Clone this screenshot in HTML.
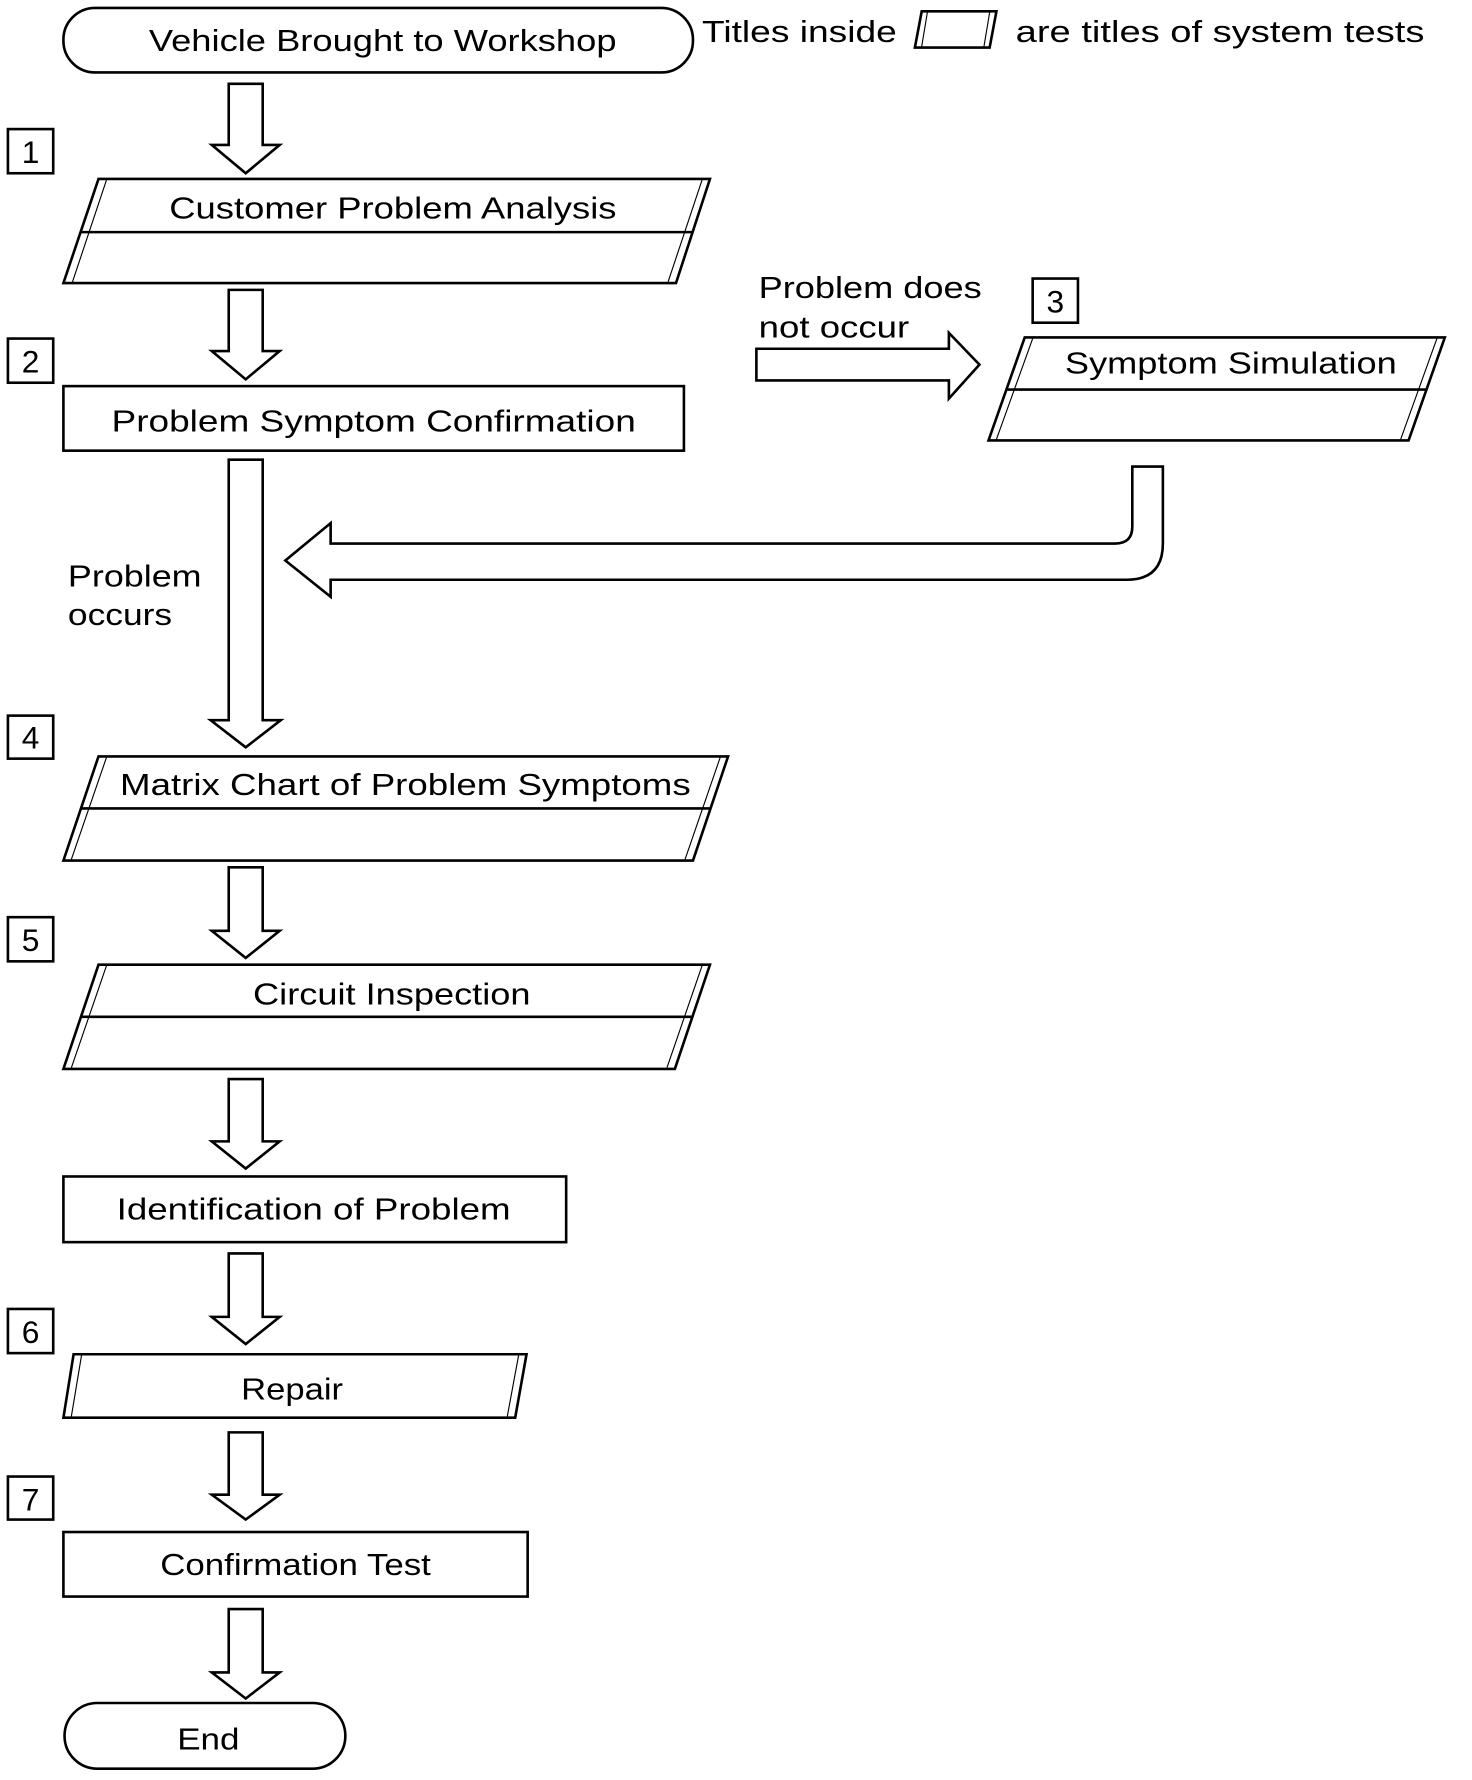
<!DOCTYPE html>
<html><head><meta charset="utf-8"><style>html,body{margin:0;padding:0;background:#fff}svg{display:block}</style></head>
<body>
<svg width="1472" height="1780" viewBox="0 0 1300 1572" preserveAspectRatio="none" xmlns="http://www.w3.org/2000/svg" font-family="Liberation Sans, sans-serif" font-size="27" fill="none" stroke="#000" stroke-width="2.3">
<rect x="56" y="7" width="556" height="57" rx="28" fill="#fff"/>
<text x="338" y="45" text-anchor="middle" fill="#000" stroke="none" textLength="413" lengthAdjust="spacingAndGlyphs">Vehicle Brought to Workshop</text>
<text x="620" y="37" fill="#000" stroke="none" textLength="172" lengthAdjust="spacingAndGlyphs">Titles inside</text>
<path d="M814 10 L880 10 L874 42 L808 42 Z"/><path d="M819 11 L814 41 M874 11 L869 41" stroke-width="1"/>
<text x="897" y="37" fill="#000" stroke="none" textLength="361" lengthAdjust="spacingAndGlyphs">are titles of system tests</text>

<g fill="#fff">
<path d="M202 74 H232 V128 H247 L217 153 L187 128 H202 Z"/>
<path d="M202 256 H232 V310 H247 L217 335 L187 310 H202 Z"/>
<path d="M202 406 H232 V636 H248 L217 660 L186 636 H202 Z"/>
<path d="M202 766 H232 V822 H247 L217 846 L187 822 H202 Z"/>
<path d="M202 953 H232 V1008 H247 L217 1032 L187 1008 H202 Z"/>
<path d="M202 1107 H232 V1163 H247 L217 1187 L187 1163 H202 Z"/>
<path d="M202 1265 H232 V1320 H247 L217 1342 L187 1320 H202 Z"/>
<path d="M202 1421 H232 V1477 H247 L217 1500 L187 1477 H202 Z"/>
<path d="M668 308 H838 V294 L865 322 L838 352 V336 H668 Z"/>
<path d="M1000 412 H1027 V480 Q1027 512 995 512 H292 V527 L252 495 L292 462 V480 H985 Q1000 480 1000 465 Z"/>
</g>

<g>
<rect x="7" y="114" width="40" height="39"/><rect x="7" y="299" width="40" height="39"/>
<rect x="912" y="246" width="40" height="39"/><rect x="7" y="632" width="40" height="38"/>
<rect x="7" y="810" width="40" height="39"/><rect x="7" y="1156" width="40" height="39"/>
<rect x="7" y="1304" width="40" height="38"/>
</g>
<g fill="#000" stroke="none" font-size="28" text-anchor="middle">
<text x="27" y="144">1</text><text x="27" y="329">2</text><text x="932" y="276">3</text>
<text x="27" y="661">4</text><text x="27" y="840">5</text><text x="27" y="1186">6</text><text x="27" y="1334">7</text>
</g>

<path d="M87 158 H627 L597 250 H56 Z" fill="#fff"/>
<path d="M94 159 L64 249 M620 159 L590 249" stroke-width="1"/>
<path d="M72 205 H612"/>
<text x="347" y="193" text-anchor="middle" fill="#000" stroke="none" textLength="395" lengthAdjust="spacingAndGlyphs">Customer Problem Analysis</text>

<rect x="56" y="341" width="548" height="57" fill="#fff"/>
<text x="330" y="381" text-anchor="middle" fill="#000" stroke="none" textLength="463" lengthAdjust="spacingAndGlyphs">Problem Symptom Confirmation</text>

<text x="670" y="263" fill="#000" stroke="none" textLength="197" lengthAdjust="spacingAndGlyphs">Problem does</text>
<text x="670" y="298" fill="#000" stroke="none" textLength="133" lengthAdjust="spacingAndGlyphs">not occur</text>

<path d="M905 298 H1276 L1244 389 H873 Z" fill="#fff"/>
<path d="M912 299 L880 388 M1269 299 L1237 388" stroke-width="1"/>
<path d="M889 344 H1260"/>
<text x="1087" y="330" text-anchor="middle" fill="#000" stroke="none" textLength="293" lengthAdjust="spacingAndGlyphs">Symptom Simulation</text>

<text x="60" y="518" fill="#000" stroke="none" textLength="118" lengthAdjust="spacingAndGlyphs">Problem</text>
<text x="60" y="552" fill="#000" stroke="none" textLength="92" lengthAdjust="spacingAndGlyphs">occurs</text>

<path d="M87 668 H643 L612 760 H56 Z" fill="#fff"/>
<path d="M94 669 L63 759 M636 669 L605 759" stroke-width="1"/>
<path d="M72 714 H628"/>
<text x="358" y="702" text-anchor="middle" fill="#000" stroke="none" textLength="504" lengthAdjust="spacingAndGlyphs">Matrix Chart of Problem Symptoms</text>

<path d="M87 852 H627 L596 944 H56 Z" fill="#fff"/>
<path d="M94 853 L63 943 M620 853 L589 943" stroke-width="1"/>
<path d="M72 898 H612"/>
<text x="346" y="887" text-anchor="middle" fill="#000" stroke="none" textLength="245" lengthAdjust="spacingAndGlyphs">Circuit Inspection</text>

<rect x="56" y="1039" width="444" height="58" fill="#fff"/>
<text x="277" y="1077" text-anchor="middle" fill="#000" stroke="none" textLength="348" lengthAdjust="spacingAndGlyphs">Identification of Problem</text>

<path d="M65 1196 H465 L455 1252 H56 Z" fill="#fff"/>
<path d="M72 1197 L63 1251 M458 1197 L448 1251" stroke-width="1"/>
<text x="258" y="1236" text-anchor="middle" fill="#000" stroke="none" textLength="90" lengthAdjust="spacingAndGlyphs">Repair</text>

<rect x="56" y="1353" width="410" height="57" fill="#fff"/>
<text x="261" y="1391" text-anchor="middle" fill="#000" stroke="none" textLength="239" lengthAdjust="spacingAndGlyphs">Confirmation Test</text>

<rect x="57" y="1504" width="248" height="58" rx="29" fill="#fff"/>
<text x="184" y="1545" text-anchor="middle" fill="#000" stroke="none" textLength="55" lengthAdjust="spacingAndGlyphs">End</text>
</svg>
</body></html>
